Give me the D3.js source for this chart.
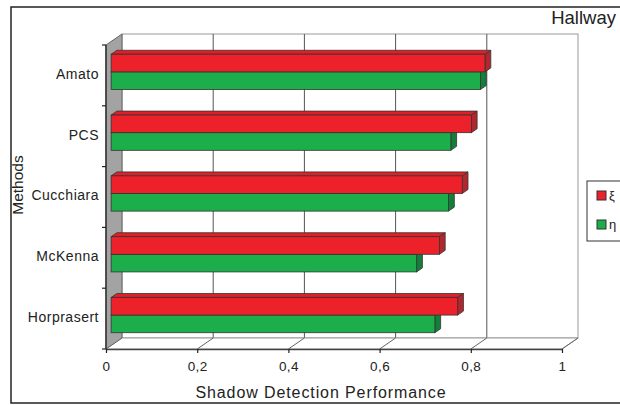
<!DOCTYPE html>
<html>
<head>
<meta charset="utf-8">
<script src="https://cdn.jsdelivr.net/npm/d3@7"></script>
<style>
  body { margin: 0; background: #fff; }
  text { font-family: Arial, "Liberation Sans", sans-serif; fill: #222; }
</style>
</head>
<body>
<svg width="620" height="405"></svg>
<script>
var methods = ['Amato', 'PCS', 'Cucchiara', 'McKenna', 'Horprasert'];
var seriesNames = ['ξ', 'η'];
var xiValues = [0.82, 0.79, 0.77, 0.72, 0.76];
var etaValues = [0.81, 0.745, 0.74, 0.67, 0.71];
var xTicks = [0, 0.2, 0.4, 0.6, 0.8, 1];

var colors = {
  'ξ': { front: '#ed2129', top: '#e01f27', side: '#b0282e' },
  'η': { front: '#1bae4b', top: '#19a044', side: '#12803a' }
};

var svg = d3.select('svg');

// 3d depth of the plot box
var depthX = 16, depthY = -11;
function off(t) { return { x: depthX * t, y: depthY * t }; }

var x = d3.scaleLinear().domain([0, 1]).range([106, 562]);
var y = d3.scaleBand().domain(methods).range([45, 349])
          .paddingInner(0.42).paddingOuter(0.21);
var sub = d3.scaleBand().domain(seriesNames).range([0, y.bandwidth()]);

// outer frame
svg.append('rect')
    .attr('x', 11).attr('y', 7).attr('width', 640).attr('height', 396)
    .attr('fill', 'none').attr('stroke', '#222').attr('stroke-width', 1.5);

var back = off(1);

// back wall
svg.append('rect')
    .attr('x', x(0) + back.x).attr('y', 45 + back.y)
    .attr('width', x(1) - x(0)).attr('height', 349 - 45)
    .attr('fill', '#fff').attr('stroke', '#999');

// back wall gridlines
svg.selectAll('.grid')
    .data(xTicks.filter(d => d > 0 && d < 1))
  .enter().append('line')
    .attr('x1', d => x(d) + back.x).attr('x2', d => x(d) + back.x)
    .attr('y1', 45 + back.y).attr('y2', 349 + back.y)
    .attr('stroke', '#555');

// floor
svg.append('path')
    .attr('d', 'M' + x(0) + ',349L' + x(1) + ',349L' + (x(1) + back.x) + ',' + (349 + back.y) +
               'L' + (x(0) + back.x) + ',' + (349 + back.y) + 'Z')
    .attr('fill', '#fff').attr('stroke', '#999');
svg.selectAll('.floorline')
    .data(xTicks.filter(d => d > 0))
  .enter().append('line')
    .attr('x1', d => x(d)).attr('y1', 349)
    .attr('x2', d => x(d) + back.x).attr('y2', 349 + back.y)
    .attr('stroke', '#666');

// left wall
svg.append('path')
    .attr('d', 'M' + x(0) + ',45L' + (x(0) + back.x) + ',' + (45 + back.y) +
               'L' + (x(0) + back.x) + ',' + (349 + back.y) + 'L' + x(0) + ',349Z')
    .attr('fill', '#a3a3a3').attr('stroke', '#666');

// bars
var f = off(0.32), b = off(0.68);
var bars = [];
methods.forEach(function(m, i) {
  bars.push({ method: m, series: 'η', value: etaValues[i] });
  bars.push({ method: m, series: 'ξ', value: xiValues[i] });
});

var barG = svg.selectAll('.bar')
    .data(bars)
  .enter().append('g')
    .classed('bar', true);

function pts(arr) { return arr.map(p => p.join(',')).join(' '); }

barG.each(function(d) {
  var g = d3.select(this);
  var y0 = y(d.method) + sub(d.series);
  var h = sub.bandwidth();
  var x0 = x(0), x1 = x(d.value);
  var c = colors[d.series];
  g.append('polygon')
      .attr('points', pts([[x0 + f.x, y0 + f.y], [x1 + f.x, y0 + f.y],
                           [x1 + b.x, y0 + b.y], [x0 + b.x, y0 + b.y]]))
      .attr('fill', c.top).attr('stroke', '#333').attr('stroke-width', 0.8);
  g.append('polygon')
      .attr('points', pts([[x1 + f.x, y0 + f.y], [x1 + b.x, y0 + b.y],
                           [x1 + b.x, y0 + h + b.y], [x1 + f.x, y0 + h + f.y]]))
      .attr('fill', c.side).attr('stroke', '#333').attr('stroke-width', 0.8);
  g.append('rect')
      .attr('x', x0 + f.x).attr('y', y0 + f.y)
      .attr('width', x1 - x0).attr('height', h)
      .attr('fill', c.front).attr('stroke', '#333').attr('stroke-width', 0.8);
});

// front axes
var xAxis = d3.axisBottom(x)
    .tickValues(xTicks)
    .tickSize(4).tickSizeOuter(0).tickPadding(8)
    .tickFormat(d => String(d).replace('.', ','));
var xg = svg.append('g')
    .attr('transform', 'translate(0,349)')
    .call(xAxis);
xg.select('.domain').attr('stroke', '#444').attr('stroke-width', 1.5);
xg.selectAll('.tick line').attr('stroke', '#222').attr('stroke-width', 1.2);
xg.selectAll('.tick text')
    .style('font-family', 'Arial, "Liberation Sans", sans-serif')
    .style('font-size', '13.5px').style('letter-spacing', '0.4px').attr('fill', '#333');

svg.append('line')
    .attr('x1', x(0)).attr('x2', x(0)).attr('y1', 45).attr('y2', 349)
    .attr('stroke', '#333').attr('stroke-width', 1.5);

var bounds = d3.range(methods.length + 1).map(i => 45 + i * y.step());
svg.selectAll('.ytick')
    .data(bounds)
  .enter().append('line')
    .attr('x1', x(0) - 4).attr('x2', x(0))
    .attr('y1', d => d).attr('y2', d => d)
    .attr('stroke', '#222').attr('stroke-width', 1.2);

svg.selectAll('.ylabel')
    .data(methods)
  .enter().append('text')
    .attr('x', 99)
    .attr('y', d => y(d) + y.bandwidth() / 2 - 1.5)
    .attr('dy', '0.35em')
    .attr('text-anchor', 'end')
    .style('font-size', '14px')
    .style('letter-spacing', '0.5px')
    .attr('fill', '#333')
    .text(d => d);

// titles
svg.append('text')
    .attr('x', 321).attr('y', 398)
    .attr('text-anchor', 'middle')
    .style('font-size', '16px')
    .style('letter-spacing', '0.9px')
    .attr('fill', '#333')
    .text('Shadow Detection Performance');

svg.append('text')
    .attr('transform', 'translate(23,185) rotate(-90)')
    .attr('text-anchor', 'middle')
    .style('font-size', '15.5px')
    .attr('fill', '#333')
    .text('Methods');

svg.append('text')
    .attr('x', 616).attr('y', 24)
    .attr('text-anchor', 'end')
    .style('font-size', '18.5px')
    .attr('fill', '#333')
    .text('Hallway');

// legend
var legend = svg.append('g');
legend.append('rect')
    .attr('x', 587).attr('y', 181).attr('width', 60).attr('height', 60)
    .attr('fill', '#fff').attr('stroke', '#333');
var li = legend.selectAll('.li')
    .data(seriesNames)
  .enter().append('g')
    .attr('transform', (d, i) => 'translate(597,' + (191 + i * 29) + ')');
li.append('rect')
    .attr('width', 9).attr('height', 9)
    .attr('fill', d => colors[d].front).attr('stroke', '#333');
li.append('text')
    .attr('x', 12).attr('y', 4.5).attr('dy', '0.35em')
    .style('font-size', '13px')
    .attr('fill', '#333')
    .text(d => d);
</script>
</body>
</html>
